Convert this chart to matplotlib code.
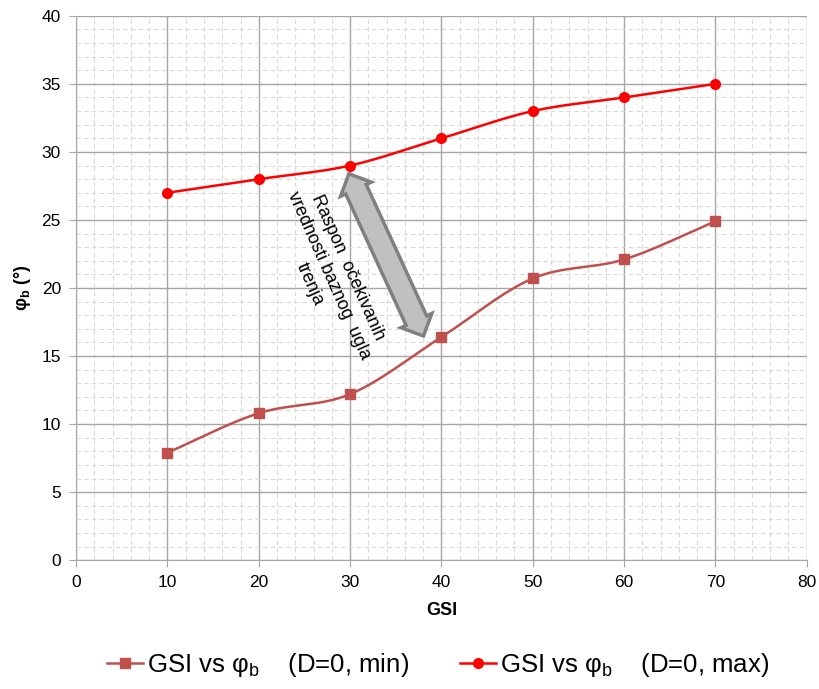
import numpy as np
import matplotlib
matplotlib.use("Agg")
import matplotlib.pyplot as plt
from matplotlib.ticker import MultipleLocator

plt.rcParams['font.family'] = ['Liberation Sans', 'DejaVu Sans']
plt.rcParams['mathtext.fontset'] = 'custom'
plt.rcParams['mathtext.rm'] = 'Liberation Sans'
plt.rcParams['mathtext.it'] = 'Liberation Sans'
plt.rcParams['mathtext.bf'] = 'Liberation Sans:bold'

# ====== 数据 ======
gsi = [10, 20, 30, 40, 50, 60, 70]
phi_min = [7.9, 10.8, 12.2, 16.4, 20.7, 22.1, 24.9]
phi_max = [27.0, 28.0, 29.0, 31.0, 33.0, 34.0, 35.0]
label_min = r"GSI vs $\mathrm{\varphi}_{\mathrm{b}}$    (D=0, min)"
label_max = r"GSI vs $\mathrm{\varphi}_{\mathrm{b}}$    (D=0, max)"
note = "Raspon  očekivanih\nvrednosti baznog  ugla\ntrenja"


def smooth(x, y, n=30):
    # Catmull-Rom 曲线 (类似 Excel 平滑线)
    x = np.asarray(x, float)
    y = np.asarray(y, float)
    px = np.concatenate([[2 * x[0] - x[1]], x, [2 * x[-1] - x[-2]]])
    py = np.concatenate([[2 * y[0] - y[1]], y, [2 * y[-1] - y[-2]]])
    xs, ys = [], []
    t = np.linspace(0, 1, n)
    for i in range(1, len(px) - 2):
        for p, out in ((px, xs), (py, ys)):
            p0, p1, p2, p3 = p[i - 1], p[i], p[i + 1], p[i + 2]
            out.extend(0.5 * (2 * p1 + (-p0 + p2) * t
                              + (2 * p0 - 5 * p1 + 4 * p2 - p3) * t ** 2
                              + (-p0 + 3 * p1 - 3 * p2 + p3) * t ** 3))
    return np.array(xs), np.array(ys)


# ====== 画图 ======
fig = plt.figure(figsize=(8.19, 6.89), dpi=100)
ax = fig.add_axes([0.093, 0.187, 0.892, 0.790])

c_min = "#c0504d"
c_max = "#ff0000"

sx, sy = smooth(gsi, phi_min)
ax.plot(sx, sy, color=c_min, lw=1.8)
ax.plot(gsi, phi_min, ls="none", marker="s", ms=7, color=c_min)
sx, sy = smooth(gsi, phi_max)
ax.plot(sx, sy, color=c_max, lw=1.8)
ax.plot(gsi, phi_max, ls="none", marker="o", ms=7, color=c_max)

# 图例句柄
h1, = ax.plot([], [], color=c_min, lw=1.8, marker="s", ms=7, label=label_min)
h2, = ax.plot([], [], color=c_max, lw=1.8, marker="o", ms=7, label=label_max)

ax.set_xlim(0, 80)
ax.set_ylim(0, 40)
ax.xaxis.set_major_locator(MultipleLocator(10))
ax.xaxis.set_minor_locator(MultipleLocator(2))
ax.yaxis.set_major_locator(MultipleLocator(5))
ax.yaxis.set_minor_locator(MultipleLocator(1))
ax.grid(which="major", color="#a6a6a6", lw=1.0)
ax.grid(which="minor", color="#d9d9d9", lw=0.8, ls=(0, (4, 3)))
ax.set_axisbelow(True)
for s in ("top", "right"):
    ax.spines[s].set_visible(False)
for s in ("left", "bottom"):
    ax.spines[s].set_color("#a6a6a6")
ax.tick_params(which="major", direction="out", length=5, color="#a6a6a6",
               labelsize=12.5, pad=6)
ax.tick_params(which="minor", length=0)

ax.set_xlabel("GSI", fontsize=13, fontweight="bold", labelpad=8)
ax.set_ylabel(r"$\mathbf{\varphi}_{\mathbf{b}}$ (°)", fontsize=13,
              fontweight="bold", labelpad=6)

# 双向箭头 (darrow 框)
ax.text(33.9, 22.5, " " * 29, rotation=-65.3, ha="center", va="center",
        rotation_mode="anchor", fontsize=13.5,
        bbox=dict(boxstyle="darrow,pad=0.15", fc="#c0c0c0", ec="#808080", lw=2.5))

# 说明文字 (居中对齐)
ax.text(27.7, 20.9, note, rotation=-66, ha="center", va="center",
        rotation_mode="anchor", multialignment="center", fontsize=13,
        linespacing=1.3)

fig.legend(handles=[h1, h2], loc="center", bbox_to_anchor=(0.535, 0.035),
           ncol=2, frameon=False, fontsize=18.5, handlelength=1.4,
           handletextpad=0.15, columnspacing=2.0)

plt.savefig("out.png", dpi=100)
